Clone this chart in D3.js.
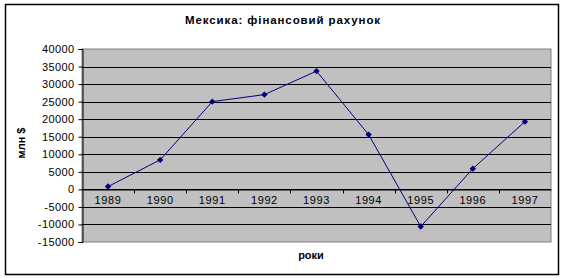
<!DOCTYPE html>
<html>
<head>
<meta charset="utf-8">
<script src="https://cdn.jsdelivr.net/npm/d3@7"></script>
<style>
  body { margin: 0; background: #fff; }
  svg { display: block; font-family: "Liberation Sans", Arial, sans-serif; }
</style>
</head>
<body>
<svg id="chart" width="564" height="278"></svg>
<script>
const years = ['1989', '1990', '1991', '1992', '1993', '1994', '1995', '1996', '1997'];
const values = [800, 8400, 25000, 27000, 33700, 15600, -10600, 5900, 19300];
const yTicks = [-15000, -10000, -5000, 0, 5000, 10000, 15000, 20000, 25000, 30000, 35000, 40000];

const svg = d3.select('#chart');
const plotL = 82, plotR = 551, plotT = 49, plotB = 242;

// outer frame
svg.append('rect')
  .attr('x', 5.5).attr('y', 4.5)
  .attr('width', 553).attr('height', 270)
  .attr('fill', '#fff').attr('stroke', '#000').attr('stroke-width', 1.5);

const x = d3.scaleBand().domain(years).range([plotL, plotR]);
const y = d3.scaleLinear().domain([-15000, 40000]).range([plotB, plotT]);

// plot area
svg.append('rect')
  .attr('x', plotL).attr('y', plotT)
  .attr('width', plotR - plotL).attr('height', plotB - plotT)
  .attr('fill', '#c0c0c0').attr('stroke', '#808080');

// gridlines
svg.append('g').selectAll('line')
  .data(yTicks.slice(1, -1))
  .enter().append('line')
  .attr('x1', plotL).attr('x2', plotR)
  .attr('y1', function(d) { return Math.round(y(d)) + 0.5; })
  .attr('y2', function(d) { return Math.round(y(d)) + 0.5; })
  .attr('stroke', '#000');

// y axis
const yAxis = svg.append('g')
  .attr('transform', 'translate(' + (plotL + 0.5) + ',0)')
  .call(d3.axisLeft(y).tickValues(yTicks).tickSize(4).tickPadding(4).tickFormat(function(d) { return String(d); }));
yAxis.selectAll('text').attr('font-size', 11).attr('fill', '#000').attr('letter-spacing', 0.4)
  .attr('font-family', '"Liberation Sans", Arial, sans-serif');
yAxis.selectAll('line, path').attr('stroke', '#000');

// category axis at zero
const xAxis = svg.append('g')
  .attr('transform', 'translate(0,' + (Math.round(y(0)) + 0.5) + ')')
  .call(d3.axisBottom(x).tickSize(0).tickPadding(7));
xAxis.select('.domain').attr('stroke', '#000');
xAxis.selectAll('text').attr('font-size', 11).attr('fill', '#000').attr('letter-spacing', 0.6)
  .attr('font-family', '"Liberation Sans", Arial, sans-serif');
xAxis.selectAll('.bnd')
  .data(years.slice(1))
  .enter().append('line')
  .attr('class', 'bnd')
  .attr('x1', function(d) { return Math.round(x(d)) + 0.5; })
  .attr('x2', function(d) { return Math.round(x(d)) + 0.5; })
  .attr('y1', 0).attr('y2', 4)
  .attr('stroke', '#000');

// line
const line = d3.line()
  .x(function(d, i) { return x(years[i]) + x.bandwidth() / 2; })
  .y(function(d) { return y(d); });

svg.append('path')
  .datum(values)
  .attr('d', line)
  .attr('fill', 'none')
  .attr('stroke', '#000080')
  .attr('stroke-width', 1);

svg.append('g').selectAll('path')
  .data(values)
  .enter().append('path')
  .attr('transform', function(d, i) { return 'translate(' + (x(years[i]) + x.bandwidth() / 2) + ',' + y(d) + ')'; })
  .attr('d', d3.symbol(d3.symbolDiamond2, 26))
  .attr('fill', '#000080');

// titles
svg.append('text')
  .attr('x', 283).attr('y', 24)
  .attr('text-anchor', 'middle')
  .attr('font-size', 11.5).attr('font-weight', 'bold').attr('letter-spacing', 0.9)
  .text('Мексика: фінансовий рахунок');

svg.append('text')
  .attr('transform', 'translate(25,143) rotate(-90)')
  .attr('text-anchor', 'middle')
  .attr('font-size', 11).attr('font-weight', 'bold')
  .text('млн $');

svg.append('text')
  .attr('x', 311).attr('y', 259)
  .attr('text-anchor', 'middle')
  .attr('font-size', 11).attr('font-weight', 'bold')
  .text('роки');
</script>
</body>
</html>
